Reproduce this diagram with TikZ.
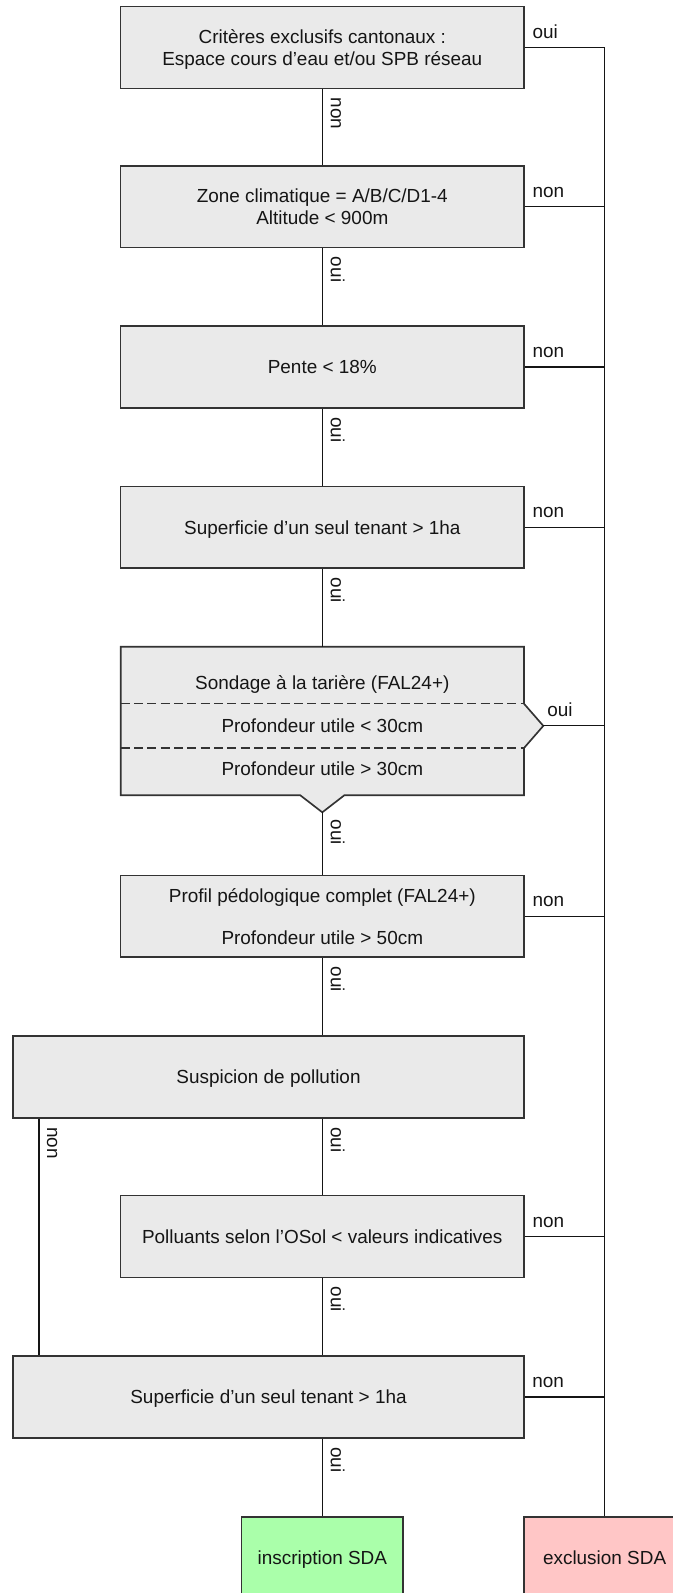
\documentclass[tikz,border=0pt]{standalone}
\usepackage{fontspec}
\setmainfont{Liberation Sans}
\usetikzlibrary{calc}
\definecolor{boxfill}{HTML}{EAEAEA}
\definecolor{boxline}{HTML}{333333}
\definecolor{okfill}{HTML}{AAFFAA}
\definecolor{nofill}{HTML}{FFC6C6}
\definecolor{ink}{HTML}{151515}
\newcommand\boxfont{\fontsize{14.2pt}{16.9pt}\selectfont}
\begin{document}
\begin{tikzpicture}[
  x=0.75pt, y=-0.75pt,
  box/.style={draw=boxline, line width=1.25pt, fill=boxfill,
    minimum width=302.5pt, minimum height=61.3pt, inner sep=0pt,
    text depth=0pt, align=center, font=\boxfont, text=ink},
  widebox/.style={box, minimum width=382.8pt},
  endbox/.style={box, minimum width=121.1pt, minimum height=61.5pt},
  txt/.style={inner sep=0pt, anchor=base, font=\boxfont, text=ink},
  link/.style={draw=ink, line width=0.9pt},
  hlab/.style={anchor=base west, inner sep=0pt, font=\boxfont, text=ink},
  vlab/.style={hlab, rotate=-90},
  sep/.style={draw=boxline, line width=1.1pt, dash pattern=on 6.8pt off 3.2pt}
]
\useasboundingbox (0,0) rectangle (673,1593);

% decision boxes
\node[box] (b1) at (322.3,47.5) {Critères exclusifs cantonaux :\\Espace cours d’eau et/ou SPB réseau};
\node[box] (b2) at (322.3,206.7) {Zone climatique = A/B/C/D1-4\\Altitude < 900m};
\node[box] (b3) at (322.3,366.9) {Pente < 18\%};
\node[box] (b4) at (322.3,527.2) {Superficie d’un seul tenant > 1ha};

% auger sounding box with its two exits
\coordinate (sT) at (322.3,646.7);
\coordinate (sR) at (543.3,725.85);
\coordinate (sB) at (322.3,812.3);
\filldraw[fill=boxfill, draw=boxline, line width=1.25pt]
  (120.7,646.7) -- (524,646.7) -- (524,703.7) -- (sR) -- (524,748)
  -- (524,795.3) -- (344.3,795.3) -- (sB) -- (300.3,795.3)
  -- (120.7,795.3) -- cycle;
\draw[sep] (120.7,703.7) -- (524,703.7);
\draw[sep] (120.7,748) -- (524,748);
\node[txt] (s1) at (322.3,689) {Sondage à la tarière (FAL24+)};
\node[txt] (s2) at (322.3,732.5) {Profondeur utile < 30cm};
\node[txt] (s3) at (322.3,775) {Profondeur utile > 30cm};

\node[box] (b6) at (322.3,916.2) {Profil pédologique complet (FAL24+)\\[14.8pt]Profondeur utile > 50cm};
\node[widebox] (b7) at (268.5,1076.9) {Suspicion de pollution};
\node[box] (b8) at (322.3,1236.5) {Polluants selon l’OSol < valeurs indicatives};
\node[widebox] (b9) at (268.5,1397) {Superficie d’un seul tenant > 1ha};

% outcomes
\node[endbox, fill=okfill] (ins) at (322.3,1558) {inscription SDA};
\node[endbox, fill=nofill] (exc) at (604.6,1558) {exclusion SDA};

% main chain
\draw[link] (b1.south) -- (b2.north);
\draw[link] (b2.south) -- (b3.north);
\draw[link] (b3.south) -- (b4.north);
\draw[link] (b4.south) -- (sT);
\draw[link] (sB) -- (b6.north);
\draw[link] (b6.south) -- (b6.south |- b7.north);
\draw[link] (b8.north |- b7.south) -- (b8.north);
\draw[link] (b8.south) -- (b8.south |- b9.north);
\draw[link] (ins.north |- b9.south) -- (ins.north);

% bypass when no pollution is suspected
\coordinate (lx) at (39,0);
\draw[link] (b7.south -| lx) -- (b9.north -| lx);

% exclusion bus
\draw[link] (b1.east) -| (exc.north);
\draw[link] (b2.east) -- (b2.east -| exc.north);
\draw[link] (b3.east) -- (b3.east -| exc.north);
\draw[link] (b4.east) -- (b4.east -| exc.north);
\draw[link] (sR) -- (sR -| exc.north);
\draw[link] (b6.east) -- (b6.east -| exc.north);
\draw[link] (b8.east) -- (b8.east -| exc.north);
\draw[link] (b9.east) -- (b9.east -| exc.north);

% horizontal labels
\node[hlab] (h1) at ($(b1.east)+(7.5,-9.3)$) {oui};
\node[hlab] (h2) at ($(b2.east)+(7.5,-9.3)$) {non};
\node[hlab] (h3) at ($(b3.east)+(7.5,-9.3)$) {non};
\node[hlab] (h4) at ($(b4.east)+(7.5,-9.3)$) {non};
\node[hlab] (h5) at ($(sR)+(3.7,-9.3)$) {oui};
\node[hlab] (h6) at ($(b6.east)+(7.5,-9.3)$) {non};
\node[hlab] (h8) at ($(b8.east)+(7.5,-9.3)$) {non};
\node[hlab] (h9) at ($(b9.east)+(7.5,-9.3)$) {non};

% vertical labels
\node[vlab] (v1) at ($(b1.south)+(8.5,8.3)$) {non};
\node[vlab] (v2) at ($(b2.south)+(8.5,8.3)$) {oui};
\node[vlab] (v3) at ($(b3.south)+(8.5,8.3)$) {oui};
\node[vlab] (v4) at ($(b4.south)+(8.5,8.3)$) {oui};
\node[vlab] (v5) at ($(sB)+(8.5,7)$) {oui};
\node[vlab] (v6) at ($(b6.south)+(8.5,8.3)$) {oui};
\node[vlab] (v7) at ($(b8.north |- b7.south)+(8.5,8.3)$) {oui};
\node[vlab] (v7n) at ($(b7.south -| lx)+(8,8.3)$) {non};
\node[vlab] (v8) at ($(b8.south)+(8.5,8.3)$) {oui};
\node[vlab] (v9) at ($(ins.north |- b9.south)+(8.5,8.3)$) {oui};
\end{tikzpicture}
\end{document}
